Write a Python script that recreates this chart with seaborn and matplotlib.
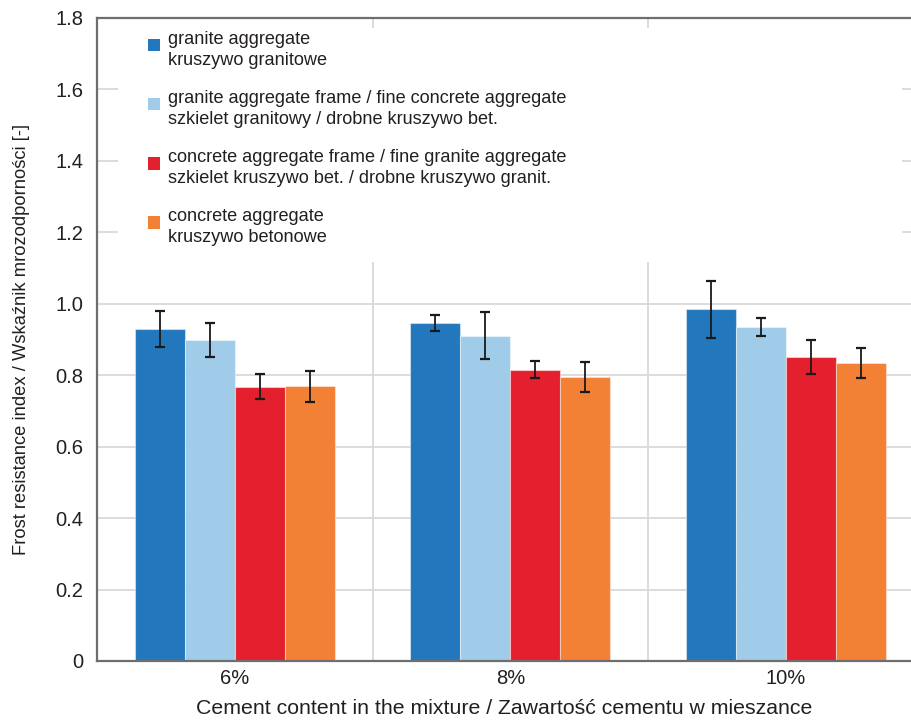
import matplotlib
matplotlib.use("Agg")
import matplotlib.pyplot as plt
from matplotlib.patches import Patch, Rectangle
from matplotlib.legend_handler import HandlerPatch
import numpy as np
import pandas as pd
import seaborn as sns

# --- data -------------------------------------------------------------
cement = ["6%", "8%", "10%"]
series = [
    "granite aggregate\nkruszywo granitowe",
    "granite aggregate frame / fine concrete aggregate\nszkielet granitowy / drobne kruszywo bet.",
    "concrete aggregate frame / fine granite aggregate\nszkielet kruszywo bet. / drobne kruszywo granit.",
    "concrete aggregate\nkruszywo betonowe",
]
granite = [0.930, 0.947, 0.985]
granite_frame = [0.898, 0.911, 0.935]
concrete_frame = [0.768, 0.816, 0.851]
concrete = [0.769, 0.796, 0.834]

granite_err = [0.051, 0.022, 0.080]
granite_frame_err = [0.047, 0.066, 0.026]
concrete_frame_err = [0.035, 0.023, 0.048]
concrete_err = [0.043, 0.042, 0.043]

colors = ["#2277BD", "#A0CCEA", "#E4202E", "#F28035"]
yticks = [0, 0.2, 0.4, 0.6, 0.8, 1.0, 1.2, 1.4, 1.6, 1.8]
ytick_labels = ["0", "0.2", "0.4", "0.6", "0.8", "1.0", "1.2", "1.4", "1.6", "1.8"]

values = [granite, granite_frame, concrete_frame, concrete]
errors = [granite_err, granite_frame_err, concrete_frame_err, concrete_err]

df = pd.DataFrame({
    "cement": [c for _ in series for c in cement],
    "series": [s for s in series for _ in cement],
    "value": [v for vals in values for v in vals],
})

# --- style ------------------------------------------------------------
sns.set_style("white")
plt.rcParams["font.family"] = ["Liberation Sans", "DejaVu Sans"]
text_color = "#231F20"
spine_color = "#6E6E6E"
grid_color = "#D9D9D9"

fig = plt.figure(figsize=(9.12, 7.2), dpi=100)
ax = fig.add_axes([97 / 912, (720 - 661) / 720, (912 - 97) / 912, (661 - 18) / 720])

sns.barplot(
    data=df, x="cement", y="value", hue="series",
    order=cement, hue_order=series, palette=colors,
    width=0.726, errorbar=None, legend=False, ax=ax,
    edgecolor=(1, 1, 1, 0.45), linewidth=0.8, saturation=1,
)

# error bars at the bar centres
for container, err in zip(ax.containers, errors):
    xs = [b.get_x() + b.get_width() / 2 for b in container]
    hs = [b.get_height() for b in container]
    ax.errorbar(xs, hs, yerr=err, fmt="none", ecolor="#1A1A1A",
                elinewidth=1.3, capsize=3.3, capthick=1.6, zorder=5)

ax.set_xlim(-0.5, 2.458)
ax.set_ylim(0, 1.8)
ax.set_yticks(yticks)
ax.set_yticklabels(ytick_labels)

# grid: horizontal value lines plus separators between groups
ax.set_axisbelow(True)
ax.yaxis.grid(True, color=grid_color, lw=1.3)
for xsep in (0.5, 1.5):
    ax.axvline(xsep, color=grid_color, lw=1.3, zorder=0.5)

# white panel behind the legend
ax.add_patch(Rectangle((0.0258, 0.6205), 0.962, 0.364, transform=ax.transAxes,
                       facecolor="white", edgecolor="none", zorder=0.8))

for side in ("left", "bottom", "top"):
    ax.spines[side].set_color(spine_color)
    ax.spines[side].set_linewidth(1.6)
ax.spines["right"].set_visible(False)

ax.tick_params(axis="both", length=0, labelsize=14.5, colors=text_color)
ax.tick_params(axis="y", pad=10)
ax.tick_params(axis="x", pad=6)

ax.set_xlabel("Cement content in the mixture / Zawartość cementu w mieszance",
              fontsize=15.3, color=text_color, labelpad=8)
ax.set_ylabel("Frost resistance index / Wskaźnik mrozodporności [-]",
              fontsize=13.2, color=text_color, labelpad=18)


def raised_square(legend, orig_handle, xdescent, ydescent, width, height, fontsize):
    # square key sitting slightly above the centre of the two-line label
    return Rectangle((-xdescent, -ydescent + 3.6), width, height)


handles = [Patch(facecolor=c, edgecolor="none") for c in colors]
leg = ax.legend(handles, series, loc="upper left", bbox_to_anchor=(0.0626, 0.980),
                frameon=False, fontsize=13.1, borderaxespad=0, borderpad=0,
                handlelength=0.68, handleheight=0.68, handletextpad=0.42,
                labelspacing=1.17,
                handler_map={Patch: HandlerPatch(patch_func=raised_square)})
for t in leg.get_texts():
    t.set_color(text_color)
    t.set_linespacing(1.3)

fig.savefig("out.png", dpi=100)
